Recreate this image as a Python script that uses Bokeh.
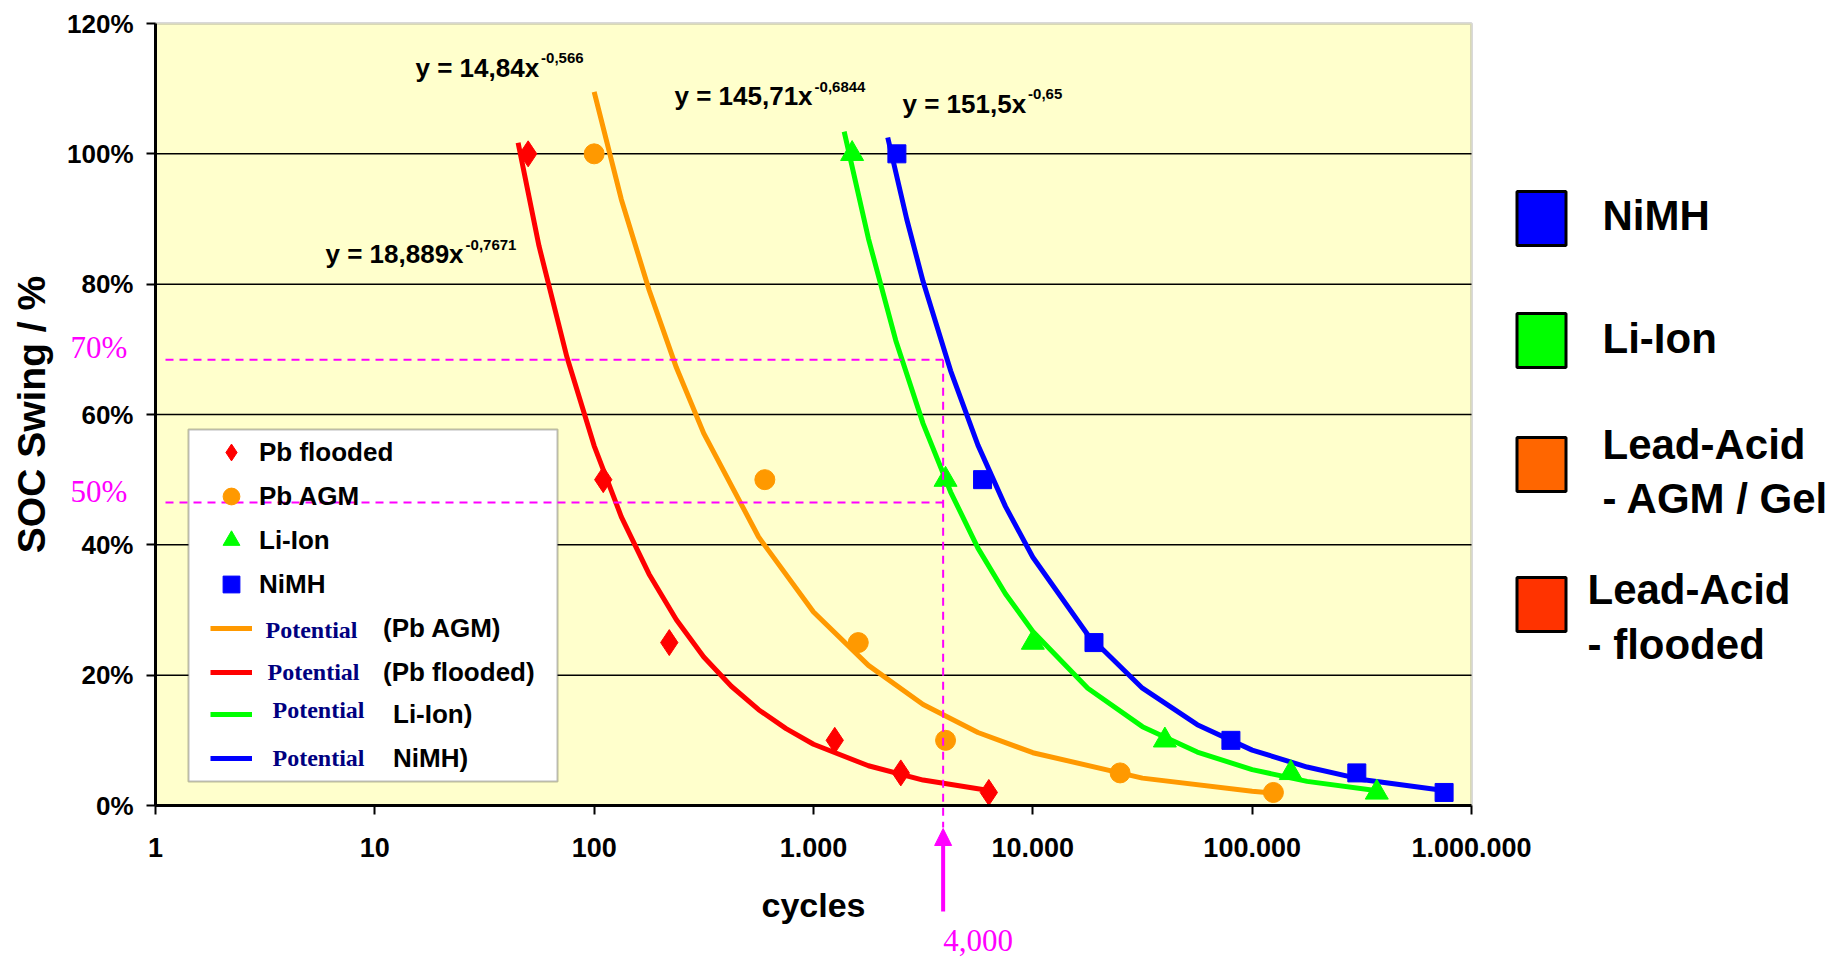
from bokeh.plotting import figure
from bokeh.models import (Range1d, FixedTicker, Legend, LegendItem, Label, Arrow,
                          NormalHead, BoxAnnotation)
from bokeh.core.properties import value
from bokeh.embed import file_html
from bokeh.resources import INLINE

# ---------------- data ----------------
series_names = ["Pb flooded", "Pb AGM", "Li-Ion", "NiMH"]
soc_levels = [100, 50, 25, 10, 5, 2]
pb_flooded_cycles = [50, 110, 220, 1250, 2500, 6300]
pb_agm_cycles = [100, 600, 1600, 4000, 25000, 125000]
li_ion_cycles = [1500, 4000, 10000, 40000, 150000, 370000]
nimh_cycles = [2400, 5900, 19000, 80000, 300000, 750000]

# power-law trend lines
pb_flooded_fit_x = [45, 56, 75, 100, 133, 178, 237, 316, 422, 562, 750, 1000, 1780, 3160, 6300]
pb_flooded_fit_y = [101.7, 85.9, 68.9, 55.2, 44.3, 35.5, 28.5, 22.8, 18.3, 14.7, 11.8, 9.4, 6.1, 3.9, 2.3]
pb_agm_fit_x = [100, 133, 178, 237, 316, 562, 1000, 1780, 3160, 5620, 10000, 31600, 100000, 126000]
pb_agm_fit_y = [109.5, 93.0, 79.1, 67.2, 57.1, 41.2, 29.7, 21.5, 15.5, 11.2, 8.1, 4.2, 2.2, 1.9]
li_ion_fit_x = [1380, 1780, 2370, 3160, 4220, 5620, 7500, 10000, 17800, 31600, 56200, 100000, 178000, 372000]
li_ion_fit_y = [103.4, 87.0, 71.4, 58.6, 48.1, 39.5, 32.5, 26.7, 18.0, 12.1, 8.2, 5.5, 3.7, 2.25]
nimh_fit_x = [2180, 2660, 3160, 4220, 5620, 7500, 10000, 17800, 31600, 56200, 100000, 178000, 316000, 750000]
nimh_fit_y = [102.5, 90.0, 80.4, 66.7, 55.3, 45.9, 38.1, 26.2, 18.0, 12.4, 8.5, 5.9, 4.0, 2.3]

fit_labels = ["(Pb AGM)", "(Pb flooded)", "Li-Ion)", "NiMH)"]
fit_prefix = "Potential"
eq_texts = ["y = 18,889x", "y = 14,84x", "y = 145,71x", "y = 151,5x"]
eq_exps = ["-0,7671", "-0,566", "-0,6844", "-0,65"]

x_ticks = [1, 10, 100, 1000, 10000, 100000, 1000000]
x_tick_labels = ["1", "10", "100", "1.000", "10.000", "100.000", "1.000.000"]
y_ticks = [0, 20, 40, 60, 80, 100, 120]
y_tick_labels = ["0%", "20%", "40%", "60%", "80%", "100%", "120%"]

mark_cycles = 3900
mark_cycles_label = "4,000"
soc_marks = [68.4, 46.5]
soc_mark_labels = ["70%", "50%"]

tech_names = ["NiMH", "Li-Ion", "Lead-Acid\n- AGM / Gel", "Lead-Acid\n- flooded"]
tech_colors = ["#0000FF", "#00FF00", "#FF6600", "#FF3300"]

# ---------------- styling / layout ----------------
SANS = "Liberation Sans"
SERIF = "Liberation Serif"
MAG = "#FF00FF"
colors = {"Pb flooded": "#FF0000", "Pb AGM": "#FF9900", "Li-Ion": "#00FF00", "NiMH": "#0000FF"}

W, H = 1843, 957
X0, X1, Y0, Y1 = 155, 1471, 23, 805   # pixel box of the plotting area


def dx(px):
    return 10 ** ((px - X0) / (X1 - X0) * 6)


def dy(py):
    return (Y1 - py) / (Y1 - Y0) * 120


def dyb(base, size):
    """data y for a text whose baseline sits at pixel row `base` (text drawn centred)."""
    return dy(base - 0.35 * size)


p = figure(width=W, height=H, x_axis_type="log", x_range=Range1d(dx(0), dx(W)),
           y_range=Range1d(dy(H), dy(0)), output_backend="svg", toolbar_location=None,
           title=None, min_border=0)
p.background_fill_color = "white"
p.border_fill_color = "white"
p.outline_line_color = None
p.xgrid.visible = False
p.ygrid.visible = False

# plotting area
p.add_layout(BoxAnnotation(left=x_ticks[0], right=x_ticks[-1], bottom=y_ticks[0], top=y_ticks[-1],
                           fill_color="#FFFFCC", fill_alpha=1, line_color="#808080",
                           line_width=3, level="underlay"))
grid_vals = y_ticks[1:-1]
p.segment(x0=[x_ticks[0]] * len(grid_vals), x1=[x_ticks[-1]] * len(grid_vals),
          y0=grid_vals, y1=grid_vals, line_color="black", line_width=1.5)

# axes, fixed to the plotting-area edges
xa, ya = p.xaxis[0], p.yaxis[0]
xa.fixed_location = y_ticks[0]
ya.fixed_location = x_ticks[0]
xa.bounds = (x_ticks[0], x_ticks[-1])
ya.bounds = (y_ticks[0], y_ticks[-1])
xa.ticker = FixedTicker(ticks=x_ticks)
xa.major_label_overrides = {float(t): l for t, l in zip(x_ticks, x_tick_labels)}
ya.ticker = FixedTicker(ticks=y_ticks)
ya.major_label_overrides = {float(t): l for t, l in zip(y_ticks, y_tick_labels)}
for ax in (xa, ya):
    ax.axis_line_color = "black"
    ax.axis_line_width = 3
    ax.major_tick_line_color = "black"
    ax.major_tick_line_width = 2
    ax.major_tick_in = 0
    ax.major_tick_out = 9
    ax.minor_tick_line_color = None
    ax.major_label_text_font = SANS
    ax.major_label_text_font_style = "bold"
    ax.major_label_text_color = "black"
    ax.axis_label_text_font = SANS
    ax.axis_label_text_font_style = "bold"
    ax.axis_label_text_color = "black"
xa.major_label_text_font_size = "27px"
ya.major_label_text_font_size = "26px"
xa.major_label_standoff = 23
ya.major_label_standoff = 13
xa.axis_label = "cycles"
xa.axis_label_text_font_size = "34px"
xa.axis_label_standoff = 26
ya.axis_label = "SOC Swing / %"
ya.axis_label_text_font_size = "39px"
ya.axis_label_standoff = 11

# trend lines
fit_r = {}
for name, fx, fy in [("Pb AGM", pb_agm_fit_x, pb_agm_fit_y),
                     ("Pb flooded", pb_flooded_fit_x, pb_flooded_fit_y),
                     ("Li-Ion", li_ion_fit_x, li_ion_fit_y),
                     ("NiMH", nimh_fit_x, nimh_fit_y)]:
    fit_r[name] = p.line(fx, fy, line_color=colors[name], line_width=5)

# measured points
markers = {"Pb flooded": ("diamond", 26), "Pb AGM": ("circle", 20),
           "Li-Ion": ("triangle", 23), "NiMH": ("square", 18)}
pt_r = {}
for name, cyc in zip(series_names, [pb_flooded_cycles, pb_agm_cycles, li_ion_cycles, nimh_cycles]):
    m, s = markers[name]
    pt_r[name] = p.scatter(cyc, soc_levels, marker=m, size=s, fill_color=colors[name],
                           line_color=colors[name])

# legend frame
p.add_layout(BoxAnnotation(left=dx(188), right=dx(557), top=dy(429), bottom=dy(781),
                           fill_color="white", fill_alpha=1, line_color="#222222",
                           line_width=2))


def make_legend(items, bottom_px, standoff):
    return Legend(items=items, location=(210, H - bottom_px), orientation="vertical",
                  padding=0, margin=0, spacing=0, glyph_width=42, glyph_height=44,
                  label_height=44, label_standoff=standoff,
                  label_text_font=SANS, label_text_font_style="bold",
                  label_text_font_size="26px", label_text_color="black",
                  background_fill_alpha=0, border_line_alpha=0)


p.add_layout(make_legend([LegendItem(label=n, renderers=[pt_r[n]]) for n in series_names],
                         606, 7))
fit_order = ["Pb AGM", "Pb flooded", "Li-Ion", "NiMH"]
p.add_layout(make_legend([LegendItem(label=fit_labels[i], renderers=[fit_r[fit_order[i]]])
                          for i in (0, 1)], 694, 131))
p.add_layout(make_legend([LegendItem(label=fit_labels[i], renderers=[fit_r[fit_order[i]]])
                          for i in (2, 3)], 780, 141))
for lx, base in [(265, 638), (267, 680), (272, 718), (272, 766)]:
    p.add_layout(Label(x=dx(lx), y=dyb(base, 24), text=fit_prefix, text_font=SERIF,
                       text_font_style="bold", text_font_size="24px", text_color="#000080",
                       text_baseline="middle", background_fill_color="white"))

# equations
AW = {c: 556 for c in "0123456789xy"}
AW.update({" ": 278, "=": 584, ",": 278, "-": 333})
for txt, ex, (lx, base, sbase) in zip(eq_texts, eq_exps,
                                      [(325, 263, 250), (415, 77, 63), (674, 105, 92), (902, 113, 99)]):
    w = sum(AW[c] for c in txt) / 1000 * 26
    p.add_layout(Label(x=dx(lx), y=dyb(base, 26), text=txt, text_font=SANS, text_font_style="bold",
                       text_font_size="26px", text_color="black", text_baseline="middle"))
    p.add_layout(Label(x=dx(lx + w + 2), y=dyb(sbase, 15), text=ex, text_font=SANS,
                       text_font_style="bold", text_font_size="15px", text_color="black",
                       text_baseline="middle"))

# magenta guide lines
for yv, lab, base in zip(soc_marks, soc_mark_labels, [358, 502]):
    p.add_layout(Arrow(end=None, x_start=dx(165), y_start=yv, x_end=mark_cycles, y_end=yv,
                       line_color=MAG, line_width=2, line_dash="8 6"))
    p.add_layout(Label(x=dx(70), y=dyb(base, 31), text=lab, text_font=SERIF, text_font_size="31px",
                       text_color=MAG, text_baseline="middle"))
p.add_layout(Arrow(end=None, x_start=mark_cycles, y_start=soc_marks[0], x_end=mark_cycles,
                   y_end=dy(827), line_color=MAG, line_width=2, line_dash="8 6"))
p.add_layout(Arrow(end=NormalHead(size=17, fill_color=MAG, line_color=MAG),
                   x_start=mark_cycles, y_start=dy(911), x_end=mark_cycles, y_end=dy(828),
                   line_color=MAG, line_width=4))
p.add_layout(Label(x=mark_cycles, y=dyb(951, 31), text=mark_cycles_label, text_font=SERIF,
                   text_font_size="31px", text_color=MAG, text_baseline="middle"))

# ---------------- right-hand colour key ----------------
sq_cy = [218, 340, 464, 604]
p.rect(x=[dx(1541)] * len(tech_names), y=[dy(c) for c in sq_cy], width=49, height=54,
       width_units="screen", height_units="screen",
       fill_color=tech_colors, line_color="black", line_width=3)
txt_pos = [(1602, [230]), (1602, [353]), (1602, [459, 513]), (1587, [604, 659])]
tx, ty, tt = [], [], []
for name, (px, bases) in zip(tech_names, txt_pos):
    for line, b in zip(name.split("\n"), bases):
        tx.append(dx(px))
        ty.append(dyb(b, 42))
        tt.append(line)
p.text(x=tx, y=ty, text=tt, text_font=value(SANS), text_font_size=value("42px"),
       text_font_style="bold", text_color="black", text_baseline="middle")

open("out.html", "w").write(file_html(p, INLINE))
